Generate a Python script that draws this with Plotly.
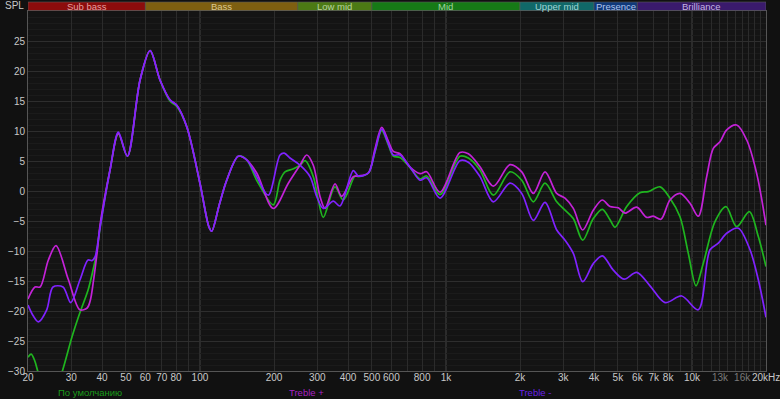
import math
import plotly.graph_objects as go

# ---------------- data ----------------
freq_default = [20, 20.6, 21.3, 21.9, 23.5, 25.5, 27.6, 30.2, 32.5, 35.1, 36.75, 38.15, 39.3, 43.1, 46.6, 50.7,
                57.1, 62.7, 68.8, 75.5, 80.5, 88.4, 100, 108.8, 111.6, 120, 128.5, 143.2, 154.9, 170.1, 198.7,
                211.6, 221.7, 240, 255.1, 267.4, 288.9, 302.8, 317.3, 354, 382.6, 426.9, 440.3, 483.7, 514.6,
                548.1, 583.1, 610.9, 650.4, 714.4, 784.5, 835, 946, 1140, 1233, 1375, 1558, 1822, 2033, 2266,
                2528, 2820, 3048, 3294, 3597, 3972, 4322, 4644, 4866, 5429, 6150, 6647, 7416, 8143, 8942, 9665,
                10387, 11120, 12408, 13754, 15202, 17108, 18613, 20000]
spl_default = [-27.7, -27.2, -28.3, -30, -34, -34, -30, -24.3, -20.3, -16.5, -13.2, -10, -6, 3.5, 9.5, 5.8,
               18.5, 23.4, 18.5, 15.0, 14.1, 10.7, 1.3, -6.0, -6.7, -2.2, 1.8, 5.8, 5.2, 1.8, -2.3,
               1.8, 3.2, 3.7, 4.3, 5.05, 2.4, -1.5, -4.4, 0.7, -1.5, 2.5, 2.4, 3.0, 6.5,
               10.05, 7.7, 5.8, 5.6, 3.9, 2.0, 2.5, -0.6, 5.8, 5.5, 3.5, -0.7, 3.2, 1.8, -1.8,
               1.3, -1.8, -3.2, -4.6, -8.2, -4.6, -3.05, -4.8, -6.05, -2.6, -0.3, -0.1, 0.7, -1.2, -4.3, -10.4,
               -15.8, -12.05, -5.1, -2.6, -5.95, -3.45, -7.6, -12.6]

freq_treble_plus = [20, 21.35, 22.4, 24.2, 26.0, 29.2, 32.5, 34.8, 35.8, 36.9, 38.2, 39.3, 43.1, 46.6, 50.7,
                    57.1, 62.7, 68.8, 75.5, 80.5, 88.4, 100, 108.8, 111.6, 120, 128.5, 143.2, 154.9, 170.1,
                    198.7, 228.7, 255.1, 271.7, 288.9, 307.6, 322.4, 354, 376.9, 420.2, 440.3, 483.7, 514.6,
                    548.1, 583.1, 610.9, 650.4, 714.4, 784.5, 835, 946, 1140, 1233, 1375, 1558, 1822, 2033,
                    2266, 2528, 2820, 3048, 3294, 3597, 3972, 4322, 4644, 5019, 5344, 5963, 6548, 6965, 7486,
                    8143, 8942, 9820, 10613, 11480, 12212, 13002, 13844, 15202, 16697, 18336, 20000]
spl_treble_plus = [-18, -16, -16, -11.5, -9.1, -14.8, -19.8, -19.5, -18.3, -15, -10.2, -5.5, 3.5, 9.6, 5.8,
                   18.5, 23.4, 18.5, 15.2, 14.3, 10.7, 1.3, -6.0, -6.7, -2.2, 1.8, 5.8, 5.2, 3.0,
                   -2.9, 1.3, 4.3, 6.0, 4.3, -0.9, -2.9, 1.2, -0.9, 2.4, 2.5, 3.0, 7.0,
                   10.6, 8.3, 6.6, 6.2, 4.0, 2.9, 3.2, -0.2, 6.4, 6.2, 4.05, 0.8, 4.4, 3.2,
                   -0.4, 3.2, -0.4, -1.2, -2.9, -6.5, -3.2, -1.5, -2.6, -2.8, -3.7, -2.7, -4.4, -4.2, -4.7,
                   -1.5, -0.4, -2.05, -4.2, 2.4, 7.1, 8.2, 10.2, 11.0, 8.5, 2.9, -5.7]

freq_treble_minus = [20, 21.0, 22.03, 23.83, 25.27, 27.75, 29.83, 32.54, 35.08, 36.4, 37.45, 38.15, 39.3, 43.1,
                     46.6, 50.7, 57.1, 62.7, 68.8, 75.5, 80.5, 88.4, 100, 108.8, 111.6, 120, 128.5, 143.2,
                     154.9, 170.1, 189.6, 211.6, 220, 232.3, 255.1, 280.2, 298.3, 317.3, 348.5, 370.9, 420.2,
                     440.3, 483.7, 514.6, 548.1, 583.1, 610.9, 650.4, 714.4, 784.5, 835, 946, 1140, 1233, 1375,
                     1558, 1822, 2033, 2266, 2528, 2820, 3048, 3294, 3597, 3972, 4322, 4789, 5294, 5963, 6753,
                     7770, 9086, 10613, 11840, 12797, 13844, 15431, 17220, 18613, 20000]
spl_treble_minus = [-19, -20.8, -21.8, -19.8, -16, -16, -18.6, -14.8, -11.5, -11.6, -11.0, -9.5, -6, 3.5,
                    9.8, 5.8, 18.5, 23.4, 18.5, 15.2, 14.3, 10.7, 1.3, -6.0, -6.7, -2.2, 1.8, 5.8,
                    5.2, 2.4, -0.7, 6.0, 6.3, 5.5, 4.3, 2.4, -0.9, -2.9, -1.7, -2.5, 3.4,
                    2.5, 3.0, 6.6, 10.3, 7.9, 6.0, 6.0, 4.0, 1.8, 2.2, -1.2, 5.05, 4.8, 2.4,
                    -1.8, 1.3, -0.4, -4.9, -1.9, -6.5, -8.2, -10.4, -15.1, -12.1, -10.8, -13.2, -14.7, -13.55, -15.8,
                    -18.6, -17.5, -19.8, -9.8, -8.7, -7.05, -6.2, -9.8, -14.8, -21.05]

series_names = ["По умолчанию", "Treble +", "Treble -"]

grid_freqs = [20, 30, 40, 50, 60, 70, 80, 90, 100, 200, 300, 400, 500, 600, 700, 800, 900,
              1000, 2000, 3000, 4000, 5000, 6000, 7000, 8000, 9000, 10000,
              11000, 12000, 13000, 14000, 15000, 16000, 17000, 18000, 19000, 20000]
grid_labels = ["20", "30", "40", "50", "60", "70", "80", "", "100", "200", "300", "400", "500", "600", "",
               "800", "", "1k", "2k", "3k", "4k", "5k", "6k", "7k", "8k", "", "10k",
               "", "", "13k", "", "", "16k", "", "", "", "20kHz"]
dim_labels = ["13k", "16k"]
decade_lines = [100, 1000, 10000]

y_ticks = [-30, -25, -20, -15, -10, -5, 0, 5, 10, 15, 20, 25]

band_names = ["Sub bass", "Bass", "Low mid", "Mid", "Upper mid", "Presence", "Brilliance"]
band_edges = [20, 60, 250, 500, 2000, 4000, 6000, 20000]
band_fill = ["#8c0c0c", "#7e5f10", "#4c7a14", "#167a16", "#106868", "#10397a", "#3a1a6c"]
band_text = ["#e6a0a0", "#dcc890", "#b8d4a0", "#a0d4a0", "#a0d4d4", "#b0c4ec", "#c4b4e4"]

# ---------------- figure ----------------
col_default = "#1fb51f"
col_plus = "#c422d8"
col_minus = "#8022ff"

fig = go.Figure()
for f, s, c, n in [(freq_default, spl_default, col_default, series_names[0]),
                   (freq_treble_plus, spl_treble_plus, col_plus, series_names[1]),
                   (freq_treble_minus, spl_treble_minus, col_minus, series_names[2])]:
    fig.add_trace(go.Scatter(x=f, y=s, mode="lines", name=n,
                             line=dict(color=c, width=1.7, shape="spline", smoothing=0.9),
                             showlegend=False))

# tick labels (last one drawn as annotation so it is not dropped at the range edge)
ticktext = []
for lab in grid_labels[:-1]:
    if lab in dim_labels:
        ticktext.append("<span style='color:#7a7a7a'>%s</span>" % lab)
    else:
        ticktext.append(lab)
ticktext.append("")

font_family = "Liberation Sans, Arial, sans-serif"
plot_h = 360.0

fig.update_layout(
    width=780, height=399,
    margin=dict(l=28, r=14, t=11, b=28),
    paper_bgcolor="#111111",
    plot_bgcolor="#141414",
    font=dict(family=font_family, size=10, color="#c8c8c8"),
    xaxis=dict(type="log", range=[math.log10(20), math.log10(20000)],
               tickmode="array", tickvals=grid_freqs, ticktext=ticktext,
               showgrid=True, gridcolor="#2b2b2b", gridwidth=1, automargin=False,
               zeroline=False, showline=True, linecolor="#555555", linewidth=1, mirror=True,
               ticks="", ticklabelstandoff=-3, tickfont=dict(size=10, color="#c8c8c8")),
    yaxis=dict(range=[-30, 30], tickmode="array", tickvals=y_ticks, automargin=False,
               showgrid=True, gridcolor="#2e2e2e", gridwidth=1,
               minor=dict(tickmode="linear", tick0=-30, dtick=1, showgrid=True, gridcolor="#1b1b1b"),
               zeroline=False, showline=True, linecolor="#555555", linewidth=1, mirror=True,
               ticks="", tickfont=dict(size=10, color="#c8c8c8")),
)

shapes = []
for d in decade_lines:
    shapes.append(dict(type="line", xref="x", yref="paper", x0=d, x1=d, y0=0, y1=1,
                       line=dict(color="#4a4a4a", width=1), layer="below"))
for i, name in enumerate(band_names):
    shapes.append(dict(type="rect", xref="x", yref="paper",
                       x0=band_edges[i], x1=band_edges[i + 1],
                       y0=1 + 0.5 / plot_h, y1=1 + 9 / plot_h,
                       fillcolor=band_fill[i], line=dict(color="#5a5a5a", width=0.6), layer="above"))
fig.update_layout(shapes=shapes)

annotations = []
for i, name in enumerate(band_names):
    xc = (math.log10(band_edges[i]) + math.log10(band_edges[i + 1])) / 2
    annotations.append(dict(x=xc, y=1 + 5 / plot_h, xref="x", yref="paper", text=name,
                            showarrow=False, xanchor="center", yanchor="middle",
                            font=dict(size=9.5, color=band_text[i], family=font_family)))
annotations.append(dict(x=0, y=1 + 6 / plot_h, xref="paper", yref="paper", text="SPL",
                        showarrow=False, xanchor="right", yanchor="middle", xshift=-2,
                        font=dict(size=10, color="#c8c8c8")))
annotations.append(dict(x=math.log10(grid_freqs[-1]), y=-6.5 / plot_h, xref="x", yref="paper",
                        text=grid_labels[-1], showarrow=False, xanchor="center", yanchor="middle",
                        font=dict(size=10, color="#c8c8c8")))
legend_pos = [(90, "#1a9a1a"), (306, "#a822c4"), (535, "#6a22e8")]
for (px, tc), n in zip(legend_pos, series_names):
    annotations.append(dict(x=(px - 28) / 738.0, y=-21 / plot_h, xref="paper", yref="paper", text=n,
                            showarrow=False, xanchor="center", yanchor="middle",
                            font=dict(size=9.5, color=tc)))
fig.update_layout(annotations=annotations)

fig.write_html("out.html")
